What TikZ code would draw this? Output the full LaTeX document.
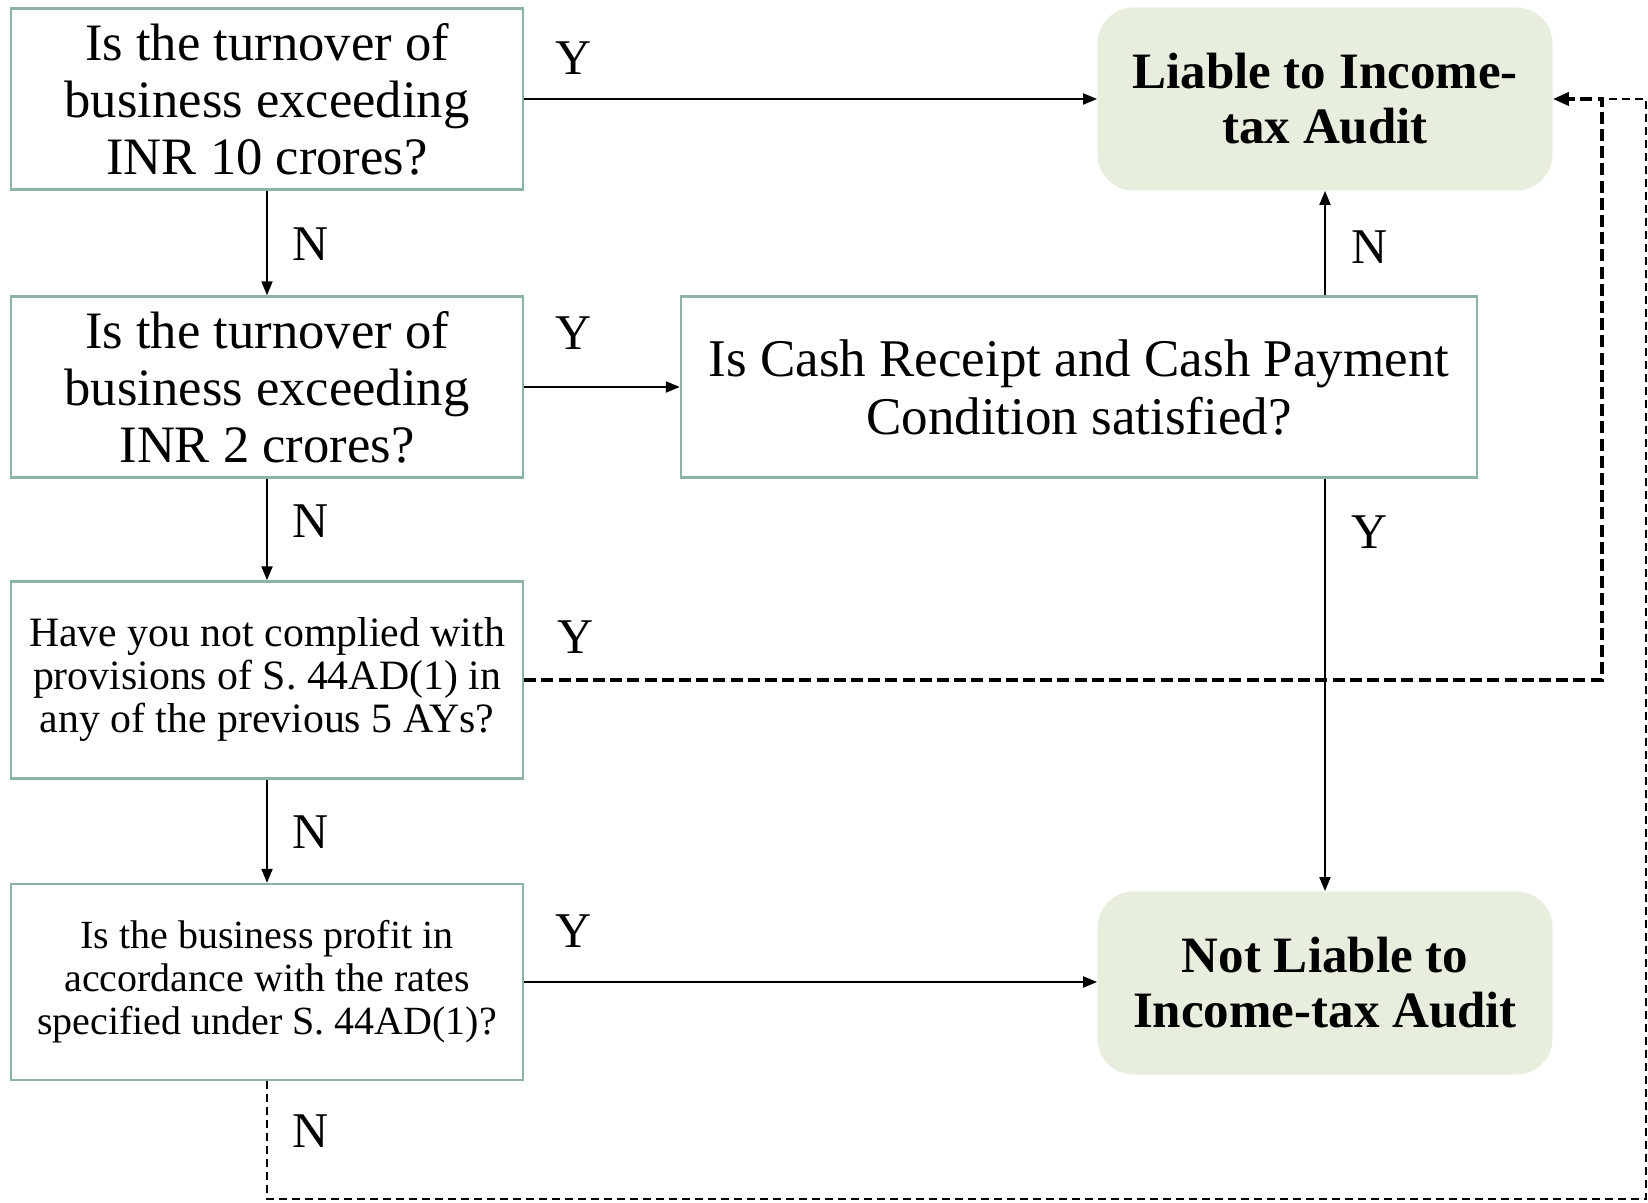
\documentclass[tikz,border=0pt]{standalone}
\usepackage{fontspec}
\setmainfont{Liberation Serif}
\usetikzlibrary{arrows.meta}
\definecolor{boxline}{RGB}{140,180,165}
\definecolor{endfill}{RGB}{232,238,222}
\tikzset{
  question/.style={draw=boxline, line width=1.2pt, fill=white, align=center,
    inner sep=0pt, minimum width=256pt, font=\fontsize{26.3}{28.5}\selectfont},
  smallq/.style={question, font=\fontsize{20.9}{21.5}\selectfont},
  endbox/.style={fill=endfill, rounded corners=18pt, align=center, inner sep=0pt,
    minimum width=227.5pt, minimum height=91.5pt,
    font=\fontsize{25.5}{27.5}\selectfont\bfseries},
  flow/.style={line width=1pt, -{Triangle[length=7pt,width=5.5pt]}},
  backlink/.style={line width=1.8pt, dash pattern=on 6pt off 2.6pt,
    -{Triangle[length=8pt,width=6.5pt]}},
  outerlink/.style={line width=1.2pt, dash pattern=on 4pt off 2.5pt},
  answer/.style={font=\fontsize{25}{29}\selectfont, inner sep=0pt}
}
\begin{document}
\begin{tikzpicture}[x=0.5pt,y=-0.5pt]
  \useasboundingbox (0,0) rectangle (1648,1203);

  % decision boxes down the left
  \node[question, minimum height=90.5pt] (q1) at (267,99)
    {Is the turnover of\\business exceeding\\INR 10 crores?};
  \node[question, minimum height=90.5pt] (q2) at (267,387)
    {Is the turnover of\\business exceeding\\INR 2 crores?};
  \node[smallq, minimum height=98.5pt] (q3) at (267,680)
    {Have you not complied with\\provisions of S. 44AD(1) in\\any of the previous 5 AYs?};
  \node[smallq, minimum height=98pt, font=\fontsize{20}{21.5}\selectfont] (q4) at (267,982)
    {Is the business profit in\\accordance with the rates\\specified under S. 44AD(1)?};

  % cash condition box
  \node[question, minimum width=398pt, minimum height=90.5pt,
    font=\fontsize{26.5}{29}\selectfont] (cash) at (1079,387)
    {Is Cash Receipt and Cash Payment\\Condition satisfied?};

  % outcomes
  \node[endbox] (liable) at (1325,99) {Liable to Income-\\tax Audit};
  \node[endbox] (notliable) at (1325,983) {Not Liable to\\Income-tax Audit};

  % solid connectors
  \draw[flow] (q1) -- (q2);
  \draw[flow] (q2) -- (q3);
  \draw[flow] (q3) -- (q4);
  \draw[flow] (q1.east) -- (liable.west);
  \draw[flow] (q2.east) -- (cash.west);
  \draw[flow] (q4.east) -- (notliable.west |- q4.east);
  \draw[flow] (liable.south |- cash.north) -- (liable.south);
  \draw[flow] (notliable.north |- cash.south) -- (notliable.north);

  % dashed connectors back to the liable outcome
  \coordinate (rt) at (1602,99);
  \coordinate (bl) at (267,1199);
  \coordinate (br) at (1646,1199);
  \coordinate (tr) at (1646,99);
  \draw[outerlink] (q4.south) -- (bl) -- (br) -- (tr) -- (rt);
  \draw[backlink] (q3.east) -| (rt) -- (liable.east);

  % answer labels
  \node[answer] (y1) at (574,58) {Y};
  \node[answer] (y2) at (574,333) {Y};
  \node[answer] (y3) at (576,637) {Y};
  \node[answer] (y4) at (574,931) {Y};
  \node[answer] (n1) at (311,244) {N};
  \node[answer] (n2) at (311,521) {N};
  \node[answer] (n3) at (311,832) {N};
  \node[answer] (n4) at (311,1131) {N};
  \node[answer] (n5) at (1370,247) {N};
  \node[answer] (y5) at (1370,532) {Y};
\end{tikzpicture}
\end{document}
